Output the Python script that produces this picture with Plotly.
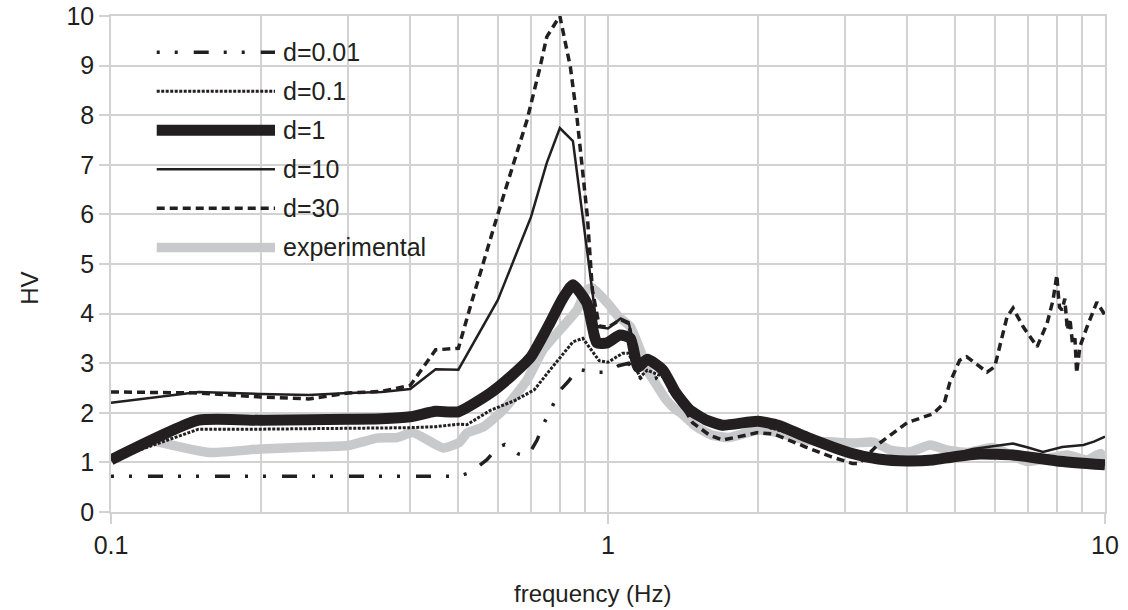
import plotly.graph_objects as go

# ---------------- data ----------------
f_d001 = [0.1, 0.2, 0.3, 0.4, 0.5, 0.53, 0.57, 0.6, 0.62, 0.66, 0.69, 0.72, 0.74, 0.77, 0.80,
          0.83, 0.87, 0.93, 1.0, 1.05, 1.1, 1.13, 1.18, 1.25, 1.35, 1.5, 1.7, 2.0, 2.5, 3.0,
          4.0, 5.0, 6.0, 7.0, 8.0, 10.0]
hv_d001 = [0.72, 0.72, 0.72, 0.72, 0.72, 0.8, 1.05, 1.3, 1.36, 1.17, 1.13, 1.45, 1.75, 2.1, 2.45,
           2.62, 2.88, 2.82, 2.82, 2.95, 3.0, 2.85, 2.62, 2.7, 2.4, 1.95, 1.68, 1.78, 1.48, 1.18,
           1.0, 1.08, 1.12, 1.1, 1.02, 0.95]

f_d01 = [0.1, 0.15, 0.2, 0.3, 0.4, 0.45, 0.5, 0.52, 0.58, 0.65, 0.71, 0.764, 0.82, 0.85, 0.89,
         0.93, 0.96, 1.0, 1.07, 1.1, 1.16, 1.2, 1.31, 1.4, 1.5, 1.7, 2.0, 2.5, 3.0, 4.0, 5.0,
         6.0, 7.0, 8.0, 10.0]
hv_d01 = [1.05, 1.67, 1.67, 1.68, 1.7, 1.72, 1.77, 1.76, 2.05, 2.25, 2.46, 2.86, 3.25, 3.43, 3.5,
          3.25, 3.05, 3.02, 3.2, 3.2, 2.72, 2.86, 2.7, 2.2, 1.95, 1.68, 1.78, 1.48, 1.18, 1.0, 1.08,
          1.12, 1.1, 1.02, 0.95]

f_d1 = [0.1, 0.15, 0.2, 0.25, 0.3, 0.35, 0.4, 0.45, 0.5, 0.58, 0.64, 0.70, 0.764, 0.81, 0.85,
        0.907, 0.95, 0.996, 1.057, 1.11, 1.149, 1.2, 1.29, 1.37, 1.46, 1.58, 1.7, 2.0, 2.2,
        2.51, 3.07, 3.5, 4.0, 4.5, 4.94, 5.6, 6.53, 8.0, 10.0]
hv_d1 = [1.05, 1.85, 1.85, 1.86, 1.87, 1.88, 1.92, 2.03, 2.02, 2.4, 2.75, 3.13, 3.81, 4.3, 4.58,
         4.21, 3.41, 3.41, 3.57, 3.5, 2.92, 3.08, 2.86, 2.4, 2.06, 1.85, 1.75, 1.83, 1.75,
         1.51, 1.19, 1.07, 1.03, 1.05, 1.11, 1.17, 1.15, 1.03, 0.95]

f_d10 = [0.1, 0.15, 0.2, 0.25, 0.3, 0.35, 0.4, 0.45, 0.5, 0.6, 0.7, 0.753, 0.80, 0.85, 0.95,
         1.0, 1.06, 1.1, 1.15, 1.2, 1.29, 1.37, 1.46, 1.58, 1.7, 2.0, 2.2, 2.51, 3.07, 3.5,
         4.0, 4.5, 5.0, 5.42, 6.0, 6.53, 7.0, 7.5, 8.2, 9.05, 9.5, 10.0]
hv_d10 = [2.2, 2.42, 2.38, 2.36, 2.4, 2.42, 2.48, 2.88, 2.87, 4.27, 5.95, 7.04, 7.74, 7.48, 3.73,
          3.7, 3.9, 3.83, 2.95, 3.1, 2.86, 2.4, 2.06, 1.85, 1.75, 1.83, 1.75, 1.51, 1.19, 1.07,
          1.04, 1.08, 1.18, 1.27, 1.33, 1.38, 1.3, 1.21, 1.31, 1.35, 1.42, 1.52]

f_d30 = [0.1, 0.15, 0.2, 0.25, 0.3, 0.35, 0.4, 0.45, 0.5, 0.533, 0.598, 0.687, 0.73, 0.753,
         0.80, 0.84, 0.866, 0.887, 0.909, 0.93, 0.96, 1.0, 1.06, 1.1, 1.15, 1.2, 1.31, 1.4,
         1.48, 1.6, 1.7, 2.0, 2.16, 2.5, 2.8, 3.1, 3.2, 3.52, 3.87, 4.0, 4.51, 4.75, 4.87,
         5.1, 5.27, 5.79, 6.0, 6.35, 6.53, 6.85, 7.3, 7.65, 7.86, 8.0, 8.05, 8.1, 8.2, 8.3,
         8.4, 8.5, 8.6, 8.7, 8.77, 8.85, 8.9, 9.2, 9.63, 10.0]
hv_d30 = [2.42, 2.4, 2.32, 2.28, 2.4, 2.43, 2.55, 3.27, 3.3, 4.27, 5.95, 7.9, 8.97, 9.58,
          10.0, 8.97, 7.96, 6.96, 5.95, 4.48, 3.75, 3.72, 3.88, 3.8, 2.9, 3.05, 2.8, 2.2,
          1.8, 1.55, 1.45, 1.6, 1.57, 1.31, 1.12, 0.98, 0.98, 1.39, 1.69, 1.8, 1.98, 2.2, 2.6,
          3.06, 3.13, 2.82, 2.93, 3.93, 4.11, 3.73, 3.33, 3.81, 4.27, 4.78, 4.41, 4.13, 4.07, 4.3,
          3.67, 3.9, 3.4, 3.5, 2.8, 3.2, 3.33, 3.73, 4.23, 3.97]

f_exp = [0.12, 0.158, 0.2, 0.25, 0.3, 0.343, 0.376, 0.405, 0.466, 0.503, 0.52, 0.56, 0.616,
         0.687, 0.74, 0.81, 0.866, 0.907, 0.93, 1.0, 1.05, 1.11, 1.16, 1.2, 1.26, 1.31, 1.37,
         1.4, 1.51, 1.62, 1.75, 2.0, 2.2, 2.5, 2.84, 3.1, 3.42, 3.7, 4.04, 4.45, 4.8, 5.3,
         5.94, 6.97, 8.4, 9.2, 9.8, 10.0]
hv_exp = [1.45, 1.2, 1.27, 1.31, 1.34, 1.49, 1.5, 1.6, 1.29, 1.41, 1.59, 1.71, 2.06,
          2.66, 3.27, 3.73, 4.07, 4.48, 4.52, 4.2, 3.94, 3.73, 3.27, 2.86, 2.52, 2.26, 2.06,
          2.0, 1.71, 1.55, 1.5, 1.65, 1.6, 1.45, 1.41, 1.39, 1.41, 1.25, 1.21, 1.35, 1.25, 1.2,
          1.3, 1.02, 1.15, 1.05, 1.18, 1.05]

x_tick_vals = [0.1, 1, 10]
x_tick_text = ["0.1", "1", "10"]
x_minor_vals = [0.2, 0.3, 0.4, 0.5, 0.6, 0.7, 0.8, 0.9, 2, 3, 4, 5, 6, 7, 8, 9]

# ---------------- styles ----------------
BLACK = "#231f20"
GRAY = "#c8c9cb"
GRID = "#d2d2d2"
FONT = "Liberation Sans, Arial, sans-serif"

styles = {
    "d=0.01": dict(color=BLACK, width=3.5, dash="3px,15px,3px,16px,15px,15px"),
    "d=0.1": dict(color=BLACK, width=3, dash="3px,1.5px"),
    "d=1": dict(color=BLACK, width=11),
    "d=10": dict(color=BLACK, width=2.5),
    "d=30": dict(color=BLACK, width=3.5, dash="8px,5px"),
    "experimental": dict(color=GRAY, width=9.5),
}
smooth = {"d=1": 0.5, "experimental": 0.5}

series = [
    ("experimental", f_exp, hv_exp),
    ("d=0.01", f_d001, hv_d001),
    ("d=0.1", f_d01, hv_d01),
    ("d=1", f_d1, hv_d1),
    ("d=10", f_d10, hv_d10),
    ("d=30", f_d30, hv_d30),
]
legend_order = ["d=0.01", "d=0.1", "d=1", "d=10", "d=30", "experimental"]

fig = go.Figure()
for name, fx, hv in series:
    line = dict(styles[name])
    if name in smooth:
        line.update(shape="spline", smoothing=smooth[name])
    fig.add_trace(go.Scatter(x=fx, y=hv, mode="lines", name=name,
                             line=line, showlegend=False))

# ---------------- custom legend (inside plot, top-left) ----------------
shapes = [dict(type="rect", xref="paper", yref="paper", x0=0.008, x1=0.356,
               y0=0.49, y1=0.978, fillcolor="white", line=dict(width=0), layer="below")]
annotations = []
row_y0 = 0.927
row_step = 0.0787
for i, name in enumerate(legend_order):
    yy = row_y0 - i * row_step
    st = styles[name]
    shapes.append(dict(type="line", xref="paper", yref="paper", x0=0.046, x1=0.165,
                       y0=yy, y1=yy, line=st, layer="above"))
    annotations.append(dict(xref="paper", yref="paper", x=0.171, y=yy, text=name,
                            showarrow=False, xanchor="left", yanchor="middle",
                            font=dict(family=FONT, size=25, color=BLACK)))

annotations.append(dict(xref="paper", yref="paper", x=0.484, y=-0.165, text="frequency (Hz)",
                        showarrow=False, xanchor="center", yanchor="middle",
                        font=dict(family=FONT, size=24, color=BLACK)))
annotations.append(dict(xref="paper", yref="paper", x=-0.0815, y=0.452, text="HV",
                        showarrow=False, textangle=-90, xanchor="center", yanchor="middle",
                        font=dict(family=FONT, size=24, color=BLACK)))

fig.update_layout(
    width=1128, height=610,
    margin=dict(l=111, r=23, t=16, b=98, autoexpand=False),
    plot_bgcolor="white", paper_bgcolor="white",
    font=dict(family=FONT, size=25, color=BLACK),
    showlegend=False,
    shapes=shapes, annotations=annotations,
)
fig.update_xaxes(type="log", range=[-1, 1], tickvals=x_tick_vals, ticktext=x_tick_text,
                 automargin=False,
                 showgrid=True, gridcolor=GRID, gridwidth=1.5,
                 ticks="outside", ticklen=10, tickwidth=1.5, tickcolor=GRID,
                 minor=dict(tickvals=x_minor_vals, showgrid=True, gridcolor=GRID,
                            gridwidth=1.5, ticks=""),
                 showline=True, linecolor=GRID, linewidth=2, mirror=True, zeroline=False,
                 tickfont=dict(family=FONT, size=25, color=BLACK))
fig.update_yaxes(range=[0, 10], dtick=1, automargin=False,
                 showgrid=True, gridcolor=GRID, gridwidth=1.5,
                 ticks="outside", ticklen=10, tickwidth=1.5, tickcolor=GRID,
                 showline=True, linecolor=GRID, linewidth=1.5, mirror=True, zeroline=False,
                 tickfont=dict(family=FONT, size=25, color=BLACK))

fig.write_html("out.html", config={"displayModeBar": False},
               post_script="document.body.style.margin='0';document.body.style.overflow='hidden';")
